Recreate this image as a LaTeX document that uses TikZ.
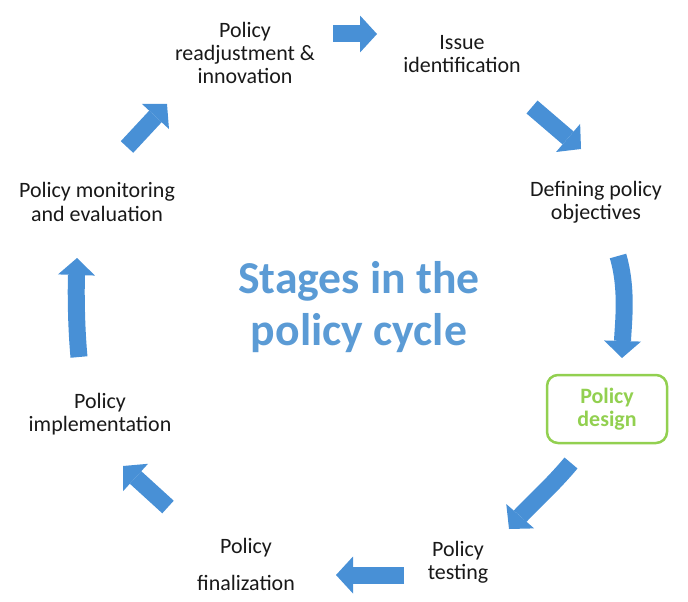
\documentclass[tikz,border=0pt]{standalone}
\usepackage{fontspec}
\setmainfont{Carlito}
\usetikzlibrary{arrows.meta}
\definecolor{arrowblue}{RGB}{72,144,214}
\definecolor{titleblue}{RGB}{91,155,213}
\definecolor{designgreen}{RGB}{146,208,80}
\definecolor{stagetext}{RGB}{25,25,25}
\tikzset{
  stage/.style={align=center, text=stagetext, font=\fontsize{12.5}{13.2}\selectfont},
  cyclearrow/.style={draw=arrowblue, line width=0.34cm, -{Triangle[length=0.34cm, width=0.74cm, line width=0pt]}},
}

\begin{document}
\begin{tikzpicture}[x=0.02cm, y=-0.02cm]
        \useasboundingbox (0,0) rectangle (688,601);
        \node[align=center, text=titleblue, font=\fontsize{26}{30}\selectfont\bfseries] (title) at (359,307) {Stages in the\\policy cycle};
        \node[stage] (readjust) at (245,53) {Policy\\readjustment \&\\innovation};
        \node[stage] (issue) at (462,54) {Issue\\identification};
        \node[stage] (objectives) at (596,202) {Defining policy\\objectives};
        \node[stage, draw=designgreen, line width=0.05cm, rounded corners=0.22cm, minimum width=2.4cm, minimum height=1.36cm, text=designgreen, font=\fontsize{12.5}{13.2}\selectfont\bfseries] (design) at (607,409) {Policy\\design};
        \node[stage] (testing) at (458,562) {Policy\\testing};
        \node[stage, anchor=base] (final1) at (246,553) {Policy};
        \node[stage, anchor=base] (final2) at (246,590) {finalization};
        \node[stage] (implement) at (100,414) {Policy\\implementation};
        \node[stage] (monitor) at (97,202) {Policy monitoring\\and evaluation};
        \coordinate (a1s) at (333,34);
        \coordinate (a1e) at (377,34);
        \coordinate (a2s) at (532,107);
        \coordinate (a2e) at (581,149);
        \coordinate (a3s) at (618,256);
        \coordinate (a3e) at (622,358);
        \coordinate (a4s) at (571,463);
        \coordinate (a4e) at (509,529);
        \coordinate (a5s) at (404,575);
        \coordinate (a5e) at (336,575);
        \coordinate (a6s) at (168,507);
        \coordinate (a6e) at (123,466);
        \coordinate (a7s) at (79,357);
        \coordinate (a7e) at (77,258);
        \coordinate (a8s) at (127,147);
        \coordinate (a8e) at (167,104);
        \draw[cyclearrow] (a1s) -- (a1e);
        \draw[cyclearrow] (a2s) -- (a2e);
        \draw[cyclearrow] (a3s) .. controls (628,290) and (623,325) .. (a3e);
        \draw[cyclearrow] (a4s) .. controls (550,488) and (530,505) .. (a4e);
        \draw[cyclearrow] (a5s) -- (a5e);
        \draw[cyclearrow] (a6s) -- (a6e);
        \draw[cyclearrow] (a7s) .. controls (76,325) and (76,290) .. (a7e);
        \draw[cyclearrow] (a8s) -- (a8e);
\end{tikzpicture}
\end{document}
